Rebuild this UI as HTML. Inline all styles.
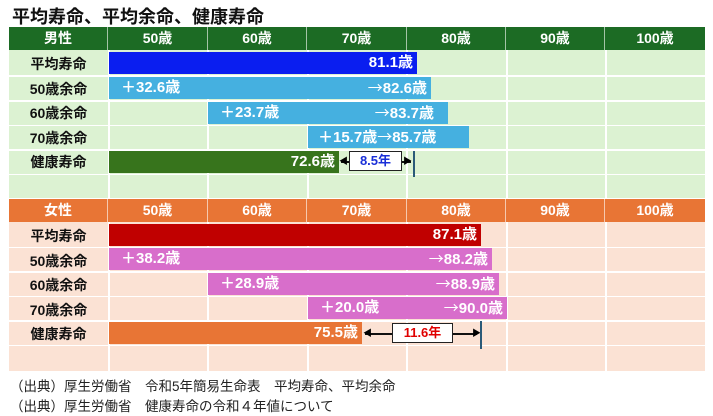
<!DOCTYPE html><html><head><meta charset="utf-8"><style>
body{margin:0;width:713px;height:416px;background:#fff;position:relative;overflow:hidden;font-family:"Liberation Sans","Noto Sans CJK JP",sans-serif}
div{position:absolute;box-sizing:border-box}
.t{left:12px;top:3px;font-size:18px;font-weight:bold;color:#111}
.hd{color:#fff;font-weight:bold;font-size:14px;text-align:center;line-height:23px;height:23px;border-right:1px solid rgba(255,255,255,.6)}
.lb{font-weight:bold;font-size:14px;text-align:center;color:#111;left:9px;width:99px}
.bar{color:#fff;font-weight:bold;font-size:15px;line-height:22px;height:22px;white-space:nowrap}
.bar span{position:absolute}
.bar i{font-style:normal;font-family:"Noto Sans CJK JP",sans-serif;font-weight:normal}
.box{background:#fff;border:1.5px solid #222;font-weight:bold;font-size:13px;text-align:center;height:20px;line-height:17px}
.ln{height:1.5px;background:#111}
.src{left:10px;font-size:13.5px;color:#222}
.v{width:1.5px;background:#fff}
.h{left:9px;width:696px;height:1.5px;background:#fff}
</style></head><body>
<div class="t">平均寿命、平均余命、健康寿命</div>
<div style="left:9px;top:27px;width:696px;height:171px;background:#dcf2d2"></div>
<div style="left:9px;top:27px;width:696px;height:23px;background:#1c6b24"></div>
<div class="hd" style="left:9px;top:27px;width:99px">男性</div>
<div class="hd" style="left:108px;top:27px;width:100px">50歳</div>
<div class="hd" style="left:208px;top:27px;width:99px">60歳</div>
<div class="hd" style="left:307px;top:27px;width:100px">70歳</div>
<div class="hd" style="left:407px;top:27px;width:99px">80歳</div>
<div class="hd" style="left:506px;top:27px;width:99px">90歳</div>
<div class="hd" style="left:605px;top:27px;width:100px;border:0">100歳</div>
<div style="left:9px;top:199px;width:696px;height:172px;background:#fbe2d4"></div>
<div style="left:9px;top:199px;width:696px;height:23px;background:#e87535"></div>
<div class="hd" style="left:9px;top:199px;width:99px">女性</div>
<div class="hd" style="left:108px;top:199px;width:100px">50歳</div>
<div class="hd" style="left:208px;top:199px;width:99px">60歳</div>
<div class="hd" style="left:307px;top:199px;width:100px">70歳</div>
<div class="hd" style="left:407px;top:199px;width:99px">80歳</div>
<div class="hd" style="left:506px;top:199px;width:99px">90歳</div>
<div class="hd" style="left:605px;top:199px;width:100px;border:0">100歳</div>
<div class="v" style="left:108px;top:50px;height:148px"></div>
<div class="v" style="left:207px;top:50px;height:148px"></div>
<div class="v" style="left:307px;top:50px;height:148px"></div>
<div class="v" style="left:406px;top:50px;height:148px"></div>
<div class="v" style="left:506px;top:50px;height:148px"></div>
<div class="v" style="left:605px;top:50px;height:148px"></div>
<div class="v" style="left:108px;top:222px;height:149px"></div>
<div class="v" style="left:207px;top:222px;height:149px"></div>
<div class="v" style="left:307px;top:222px;height:149px"></div>
<div class="v" style="left:406px;top:222px;height:149px"></div>
<div class="v" style="left:506px;top:222px;height:149px"></div>
<div class="v" style="left:605px;top:222px;height:149px"></div>
<div class="h" style="top:75px"></div>
<div class="h" style="top:100px"></div>
<div class="h" style="top:124.5px"></div>
<div class="h" style="top:149px"></div>
<div class="h" style="top:173.5px"></div>
<div class="h" style="top:246.5px"></div>
<div class="h" style="top:271px"></div>
<div class="h" style="top:295.5px"></div>
<div class="h" style="top:320px"></div>
<div class="h" style="top:344.5px"></div>
<div class="lb" style="top:54px">平均寿命</div>
<div class="lb" style="top:79px">50歳余命</div>
<div class="lb" style="top:103px">60歳余命</div>
<div class="lb" style="top:128px">70歳余命</div>
<div class="lb" style="top:152px">健康寿命</div>
<div class="bar" style="left:109px;top:52px;width:308px;background:#0a1ef0"><span style="right:4px">81.1歳</span></div>
<div class="bar" style="left:109px;top:77px;width:322px;background:#45b0e0"><span style="left:12px">＋32.6歳</span><span style="right:4px"><i>→</i>82.6歳</span></div>
<div class="bar" style="left:208px;top:101.5px;width:240px;background:#45b0e0"><span style="left:12px">＋23.7歳</span><span style="right:14px"><i>→</i>83.7歳</span></div>
<div class="bar" style="left:308px;top:126px;width:161px;background:#45b0e0"><span style="left:10px">＋15.7歳<i>→</i>85.7歳</span></div>
<div class="bar" style="left:109px;top:150.5px;width:230px;background:#37741c"><span style="right:4px">72.6歳</span></div>
<div class="ln" style="left:341px;top:161px;width:70px"></div>
<div style="left:339px;top:157px;font-size:9px;line-height:9px">◀</div>
<div style="left:403px;top:157px;font-size:9px;line-height:9px">▶</div>
<div class="box" style="left:349px;top:151px;width:53px;color:#1a2fd8">8.5年</div>
<div style="left:413px;top:151px;width:1.5px;height:26px;background:#2a5a78"></div>
<div class="lb" style="top:226px">平均寿命</div>
<div class="lb" style="top:251px">50歳余命</div>
<div class="lb" style="top:275px">60歳余命</div>
<div class="lb" style="top:300px">70歳余命</div>
<div class="lb" style="top:324px">健康寿命</div>
<div class="bar" style="left:109px;top:223.5px;width:372px;background:#c00000"><span style="right:4px">87.1歳</span></div>
<div class="bar" style="left:109px;top:248px;width:383px;background:#d86ecb"><span style="left:12px">＋38.2歳</span><span style="right:4px"><i>→</i>88.2歳</span></div>
<div class="bar" style="left:208px;top:272.5px;width:291px;background:#d86ecb"><span style="left:12px">＋28.9歳</span><span style="right:4px"><i>→</i>88.9歳</span></div>
<div class="bar" style="left:308px;top:297px;width:199px;background:#d86ecb"><span style="left:12px">＋20.0歳</span><span style="right:4px"><i>→</i>90.0歳</span></div>
<div class="bar" style="left:109px;top:321.5px;width:253px;background:#e87535"><span style="right:4px">75.5歳</span></div>
<div class="ln" style="left:365px;top:333px;width:112px"></div>
<div style="left:363px;top:329px;font-size:9px;line-height:9px">◀</div>
<div style="left:472px;top:329px;font-size:9px;line-height:9px">▶</div>
<div class="box" style="left:392px;top:323px;width:61px;color:#e00000">11.6年</div>
<div style="left:480px;top:321px;width:1.5px;height:28px;background:#2a5a78"></div>
<div class="src" style="top:375px">（出典）厚生労働省　令和5年簡易生命表　平均寿命、平均余命</div>
<div class="src" style="top:395px">（出典）厚生労働省　健康寿命の令和４年値について</div>
</body></html>
